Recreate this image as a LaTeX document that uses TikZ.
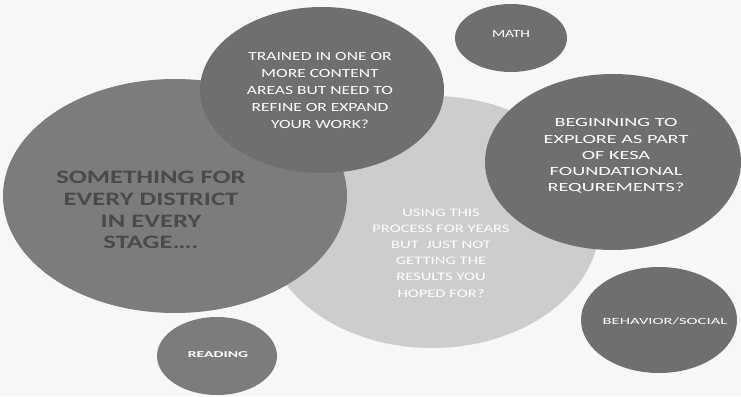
\documentclass[tikz,border=0pt]{standalone}
\usepackage{fontspec}
\setmainfont{Carlito}
\newfontfamily\wideA[FakeStretch=1.40]{Carlito}
\newfontfamily\wideB[FakeStretch=1.44]{Carlito}
\newfontfamily\wideC[FakeStretch=1.62]{Carlito}
\newfontfamily\wideD[FakeStretch=1.75]{Carlito}
\usetikzlibrary{shapes.geometric}
\definecolor{bgc}{HTML}{F7F7F7}
\definecolor{darkc}{HTML}{6F6F6F}
\definecolor{midc}{HTML}{7C7C7C}
\definecolor{lightc}{HTML}{CDCDCD}
\definecolor{ltxt}{HTML}{4A4A4A}
\tikzset{
  blob/.style={ellipse, inner sep=0pt, draw=none},
  wtxt/.style={text=white, align=center, inner sep=0pt},
}
\begin{document}
\begin{tikzpicture}[x=1pt,y=-1pt]
\fill[bgc] (0,0) rectangle (741,396);
\useasboundingbox (0,0) rectangle (741,396);
% light central circle
\node[blob, fill=lightc, minimum width=336pt, minimum height=252pt] (using) at (432,222) {};
% left big
\node[blob, fill=midc, minimum width=344pt, minimum height=234pt] (some) at (175,196) {};
% trained
\node[blob, fill=darkc, minimum width=244pt, minimum height=166pt] (trained) at (322,90) {};
% math
\node[blob, fill=darkc, minimum width=112pt, minimum height=68pt] (math) at (511,38) {};
% beginning
\node[blob, fill=darkc, minimum width=256pt, minimum height=176pt] (begin) at (613,162) {};
% behavior
\node[blob, fill=darkc, minimum width=156pt, minimum height=106pt] (behav) at (659,320) {};
% reading
\node[blob, fill=midc, minimum width=120pt, minimum height=78pt] (read) at (217,356) {};

% texts
\node[align=center, text=ltxt, font=\wideA\fontsize{19}{21.8}\selectfont\bfseries, inner sep=0pt] (tsome) at (151,210)
  {SOMETHING FOR\\EVERY DISTRICT\\IN EVERY\\STAGE\ldots.};
\node[wtxt, font=\wideA\fontsize{12.5}{17}\selectfont] (ttrained) at (320,90)
  {TRAINED IN ONE OR\\MORE CONTENT\\AREAS BUT NEED TO\\REFINE OR EXPAND\\YOUR WORK?};
\node[wtxt, font=\wideB\fontsize{11.5}{16.2}\selectfont] (tusing) at (441,253)
  {USING THIS\\PROCESS FOR YEARS\\BUT\ \ JUST NOT\\GETTING THE\\RESULTS YOU\\HOPED FOR?};
\node[wtxt, font=\wideC\fontsize{12.5}{16.2}\selectfont] (tbegin) at (616,156)
  {BEGINNING TO\\EXPLORE AS PART\\OF KESA\\FOUNDATIONAL\\REQUREMENTS?};
\node[wtxt, font=\wideA\fontsize{11}{12}\selectfont] (tmath) at (511,34) {MATH};
\node[wtxt, font=\wideD\fontsize{9.5}{11}\selectfont] (tbehav) at (665,321) {BEHAVIOR/SOCIAL};
\node[wtxt, font=\wideD\fontsize{9}{10}\selectfont\bfseries] (tread) at (218,355) {READING};
\end{tikzpicture}
\end{document}
